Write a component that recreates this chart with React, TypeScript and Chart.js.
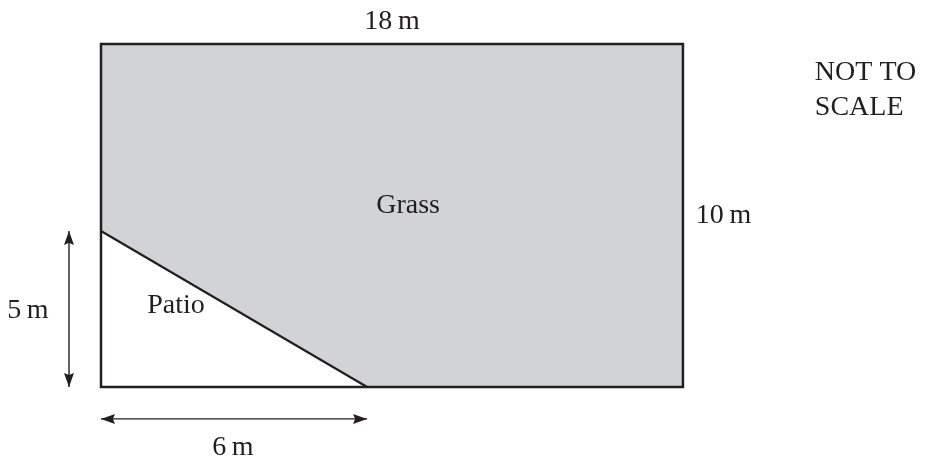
import React, { useEffect, useRef } from "react";
import { Chart, registerables } from "chart.js";

Chart.register(...registerables);

// Real dimensions in metres (used for the labels)
const gardenDims = [18, 10]; // width, height
const patioDims = [6, 5]; // width, height

// Drawn proportions (the diagram is NOT TO SCALE), drawing units
const gardenDrawn = [18, 10];
const patioDrawn = [8.23, 4.55];

const areaNames = ["Grass", "Patio"];
const noteLines = ["NOT TO", "SCALE"];
const unit = "m";

// ---- layout / style (not data) ----
const INK = "#231f20";
const GRASS = "#d1d3d4";
const FONT = "28px 'Liberation Serif', 'DejaVu Serif', serif";
const X_RANGE = [-3.124, 25.58];
const Y_RANGE = [-2.157, 11.283];
const V_ARROW_X = -0.99;
const H_ARROW_Y = -0.93;

const [W, H] = gardenDrawn;
const [PW, PH] = patioDrawn;

const textItems = [
  { text: `${gardenDims[0]}\u2009${unit}`, x: 9.0, y: 10.44, align: "center" },
  { text: `${gardenDims[1]}\u2009${unit}`, x: 18.4, y: 4.78, align: "left" },
  { text: `${patioDims[0]}\u2009${unit}`, x: 4.08, y: -1.98, align: "center" },
  { text: `${patioDims[1]}\u2009${unit}`, x: -2.26, y: 2.01, align: "center" },
  { text: areaNames[0], x: 9.5, y: 5.07, align: "center" },
  { text: areaNames[1], x: 2.32, y: 2.16, align: "center" },
  { text: noteLines[0], x: 22.08, y: 8.95, align: "left" },
  { text: noteLines[1], x: 22.08, y: 7.93, align: "left" },
];

const textPlugin = {
  id: "diagramText",
  afterDatasetsDraw(chart: any) {
    const { ctx, scales } = chart;
    ctx.save();
    ctx.fillStyle = INK;
    ctx.font = FONT;
    ctx.textBaseline = "alphabetic";
    for (const t of textItems) {
      ctx.textAlign = t.align;
      ctx.fillText(t.text, scales.x.getPixelForValue(t.x), scales.y.getPixelForValue(t.y));
    }
    ctx.restore();
  },
};

const arrowPlugin = {
  id: "arrowHeads",
  afterDatasetsDraw(chart: any) {
    const { ctx } = chart;
    chart.data.datasets.forEach((ds: any, i: number) => {
      if (!ds.arrowHeads) return;
      const pts = chart.getDatasetMeta(i).data;
      if (pts.length < 2) return;
      const ends = [
        [pts[0], pts[1]],
        [pts[pts.length - 1], pts[pts.length - 2]],
      ];
      ctx.save();
      ctx.fillStyle = INK;
      for (const [tip, prev] of ends) {
        const dx = tip.x - prev.x;
        const dy = tip.y - prev.y;
        const len = Math.hypot(dx, dy) || 1;
        const ux = dx / len, uy = dy / len;
        const L = 14, hw = 5;
        const bx = tip.x - ux * L, by = tip.y - uy * L;
        ctx.beginPath();
        ctx.moveTo(tip.x, tip.y);
        ctx.lineTo(bx - uy * hw, by + ux * hw);
        ctx.lineTo(tip.x - ux * L * 0.85, tip.y - uy * L * 0.85);
        ctx.lineTo(bx + uy * hw, by - ux * hw);
        ctx.closePath();
        ctx.fill();
      }
      ctx.restore();
    });
  },
};

export default function App() {
  const ref = useRef<HTMLCanvasElement | null>(null);

  useEffect(() => {
    if (!ref.current) return;
    const grass = [
      { x: 0, y: PH },
      { x: 0, y: H },
      { x: W, y: H },
      { x: W, y: 0 },
      { x: PW, y: 0 },
      { x: 0, y: PH },
    ];
    const outline = [
      { x: PW, y: 0 },
      { x: W, y: 0 },
      { x: W, y: H },
      { x: 0, y: H },
      { x: 0, y: 0 },
      { x: PW, y: 0 },
    ];
    const hyp = [
      { x: 0, y: PH },
      { x: PW, y: 0 },
    ];
    const vArrow = [
      { x: V_ARROW_X, y: 0 },
      { x: V_ARROW_X, y: PH },
    ];
    const hArrow = [
      { x: 0, y: H_ARROW_Y },
      { x: PW, y: H_ARROW_Y },
    ];
    const lineDs = (label: string, data: any[], width: number, extra: any = {}) => ({
      label,
      data,
      showLine: true,
      borderColor: INK,
      borderWidth: width,
      pointRadius: 0,
      borderJoinStyle: "miter",
      tension: 0,
      fill: false,
      ...extra,
    });

    const chart = new Chart(ref.current, {
      type: "scatter",
      data: {
        datasets: [
          lineDs("outline", outline, 2.5),
          lineDs("boundary", hyp, 2.2),
          lineDs("width arrow", hArrow, 1.4, { arrowHeads: true }),
          lineDs("height arrow", vArrow, 1.4, { arrowHeads: true }),
          lineDs("grass", grass, 0, {
            fill: "shape",
            backgroundColor: GRASS,
            borderColor: "rgba(0,0,0,0)",
          }),
        ] as any,
      },
      options: {
        responsive: false,
        animation: false,
        devicePixelRatio: 1,
        layout: { padding: 0 },
        plugins: {
          legend: { display: false },
          tooltip: { enabled: false },
          filler: { drawTime: "beforeDatasetsDraw" },
        },
        scales: {
          x: { type: "linear", min: X_RANGE[0], max: X_RANGE[1], display: false },
          y: { type: "linear", min: Y_RANGE[0], max: Y_RANGE[1], display: false },
        },
        events: [],
      } as any,
      plugins: [textPlugin, arrowPlugin],
    });
    return () => chart.destroy();
  }, []);

  return (
    <div style={{ position: "fixed", left: 0, top: 0, width: 928, height: 461, background: "#fff" }}>
      <canvas ref={ref} width={928} height={461} style={{ display: "block" }} />
    </div>
  );
}
